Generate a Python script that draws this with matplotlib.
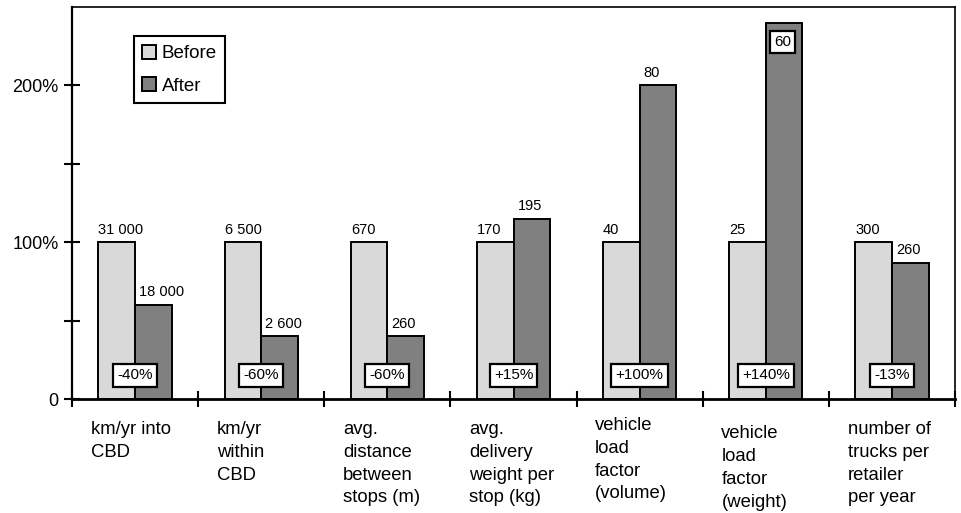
import numpy as np
import matplotlib
matplotlib.use("Agg")
from matplotlib import pyplot as plt

plt.rcParams['font.family'] = ['Liberation Sans', 'DejaVu Sans']

categories = ["km/yr into\nCBD", "km/yr\nwithin\nCBD", "avg.\ndistance\nbetween\nstops (m)",
              "avg.\ndelivery\nweight per\nstop (kg)", "vehicle\nload\nfactor\n(volume)",
              "vehicle\nload\nfactor\n(weight)", "number of\ntrucks per\nretailer\nper year"]
before_pct = [100, 100, 100, 100, 100, 100, 100]
after_pct = [60, 40, 40, 115, 200, 240, 87]
before_labels = ["31 000", "6 500", "670", "170", "40", "25", "300"]
after_labels = ["18 000", "2 600", "260", "195", "80", "60", "260"]
change_labels = ["-40%", "-60%", "-60%", "+15%", "+100%", "+140%", "-13%"]

fig = plt.figure(figsize=(9.62, 5.13), dpi=100)
ax = fig.add_axes([0.0748, 0.2222, 0.918, 0.7642])

x = np.arange(len(categories))
w = 0.29
bb = ax.bar(x - w / 2, before_pct, w, color="#d9d9d9", edgecolor="black", linewidth=1.4, label="Before")
ba = ax.bar(x + w / 2, after_pct, w, color="#808080", edgecolor="black", linewidth=1.4, label="After")

ax.set_xlim(-0.5, 6.5)
ax.set_ylim(0, 250)

# value labels above bars
for i in range(len(x)):
    ax.annotate(before_labels[i], (x[i] - w, before_pct[i]), xytext=(0, 4),
                textcoords="offset points", ha="left", va="bottom", fontsize=10.5)
    if after_pct[i] > 230:
        ax.annotate(after_labels[i], (x[i] + w / 2, after_pct[i]), xytext=(-1, -9),
                    textcoords="offset points", ha="center", va="top", fontsize=11,
                    bbox=dict(boxstyle="square,pad=0.25", fc="white", ec="black", lw=1.6))
    else:
        ax.annotate(after_labels[i], (x[i], after_pct[i]), xytext=(3, 4),
                    textcoords="offset points", ha="left", va="bottom", fontsize=10.5)
    ax.text(x[i], 15, change_labels[i], ha="center", va="center", fontsize=11,
            bbox=dict(boxstyle="square,pad=0.28", fc="white", ec="black", lw=1.6))

# category labels below the axis
dy = [0, 0, 0, 0, -3, 3, 0]
for i, lab in enumerate(categories):
    ax.annotate(lab, (x[i], 0), xytext=(-32, -16 - dy[i]), textcoords="offset points",
                ha="left", va="top", fontsize=13.3, linespacing=1.44, annotation_clip=False)

ax.set_xticks(np.arange(-0.5, 7, 1))
ax.set_xticklabels([])
ax.set_yticks([0, 50, 100, 150, 200])
ax.set_yticklabels(["0", "", "100%", "", "200%"], fontsize=13)
ax.tick_params(axis="both", direction="inout", length=11, width=1.5, pad=4)
ax.tick_params(axis="x", length=12)

ax.spines["bottom"].set_linewidth(2)
ax.spines["left"].set_linewidth(1.6)
ax.spines["top"].set_linewidth(1.2)
ax.spines["right"].set_linewidth(1.2)

leg = ax.legend(loc="upper left", bbox_to_anchor=(0.07, 0.925), fontsize=13.5,
                handlelength=0.75, handleheight=0.75, handletextpad=0.3,
                labelspacing=0.8, borderpad=0.45, borderaxespad=0,
                fancybox=False, framealpha=1, edgecolor="black")
leg.get_frame().set_linewidth(1.5)

fig.savefig("out.png", dpi=100)
